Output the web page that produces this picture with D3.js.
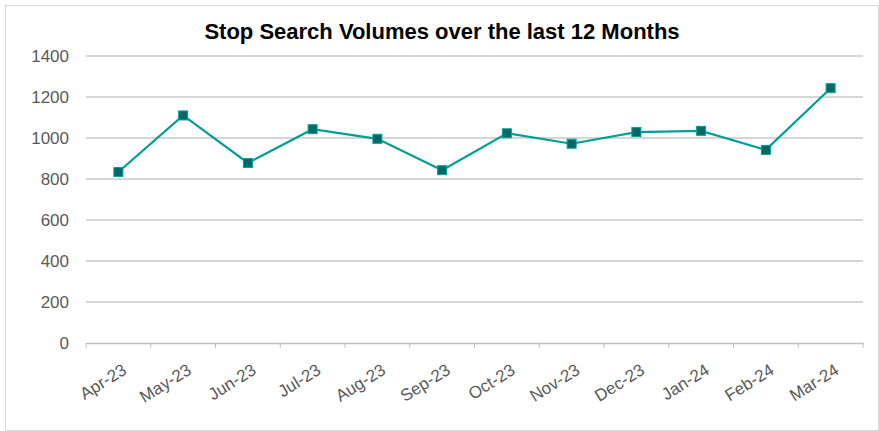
<!DOCTYPE html>
<html>
<head>
<meta charset="utf-8">
<script src="https://cdn.jsdelivr.net/npm/d3@7"></script>
<style>
  body { margin: 0; background: #fff; }
  text { font-family: "Liberation Sans", Arial, sans-serif; }
</style>
</head>
<body>
<div id="chart"></div>
<script>
// chart data
const months = ['Apr-23', 'May-23', 'Jun-23', 'Jul-23', 'Aug-23', 'Sep-23', 'Oct-23', 'Nov-23', 'Dec-23', 'Jan-24', 'Feb-24', 'Mar-24'];
const volumes = [834, 1110, 878, 1043, 996, 843, 1023, 972, 1029, 1035, 942, 1243];
const yTicks = [0, 200, 400, 600, 800, 1000, 1200, 1400];

const width = 879, height = 431;
const margin = {top: 56, right: 16, bottom: 88, left: 86};

const svg = d3.select('#chart')
    .append('svg')
    .attr('width', width)
    .attr('height', height);

// chart frame
svg.append('rect')
    .attr('x', 5.5).attr('y', 5.5)
    .attr('width', width - 6).attr('height', height - 6)
    .attr('fill', '#fff')
    .attr('stroke', '#d9d9d9');

svg.append('text')
    .attr('x', 442)
    .attr('y', 39)
    .attr('text-anchor', 'middle')
    .style('font-size', '22px')
    .style('font-weight', 'bold')
    .attr('fill', '#000')
    .text('Stop Search Volumes over the last 12 Months');

const xScale = d3.scaleBand().domain(months).range([margin.left, width - margin.right]);
const yScale = d3.scaleLinear().domain([0, 1400]).range([height - margin.bottom, margin.top]);

// gridlines
svg.append('g')
    .selectAll('line')
    .data(yTicks.filter(d => d > 0))
    .enter()
    .append('line')
    .attr('x1', margin.left)
    .attr('x2', width - margin.right)
    .attr('y1', d => yScale(d))
    .attr('y2', d => yScale(d))
    .attr('stroke', '#c8c8c8')
    .attr('stroke-width', 1.5);

// y axis labels
const yAxis = d3.axisLeft(yScale).tickValues(yTicks).tickFormat(d3.format('d')).tickSize(0).tickPadding(17);
const yg = svg.append('g')
    .attr('transform', `translate(${margin.left}, 0)`)
    .call(yAxis);
yg.select('.domain').remove();
yg.selectAll('text')
    .style('font-size', '17px')
    .attr('fill', '#595959');

// x axis
const xAxis = d3.axisBottom(xScale).tickSize(0).tickPadding(0);
const xg = svg.append('g')
    .attr('transform', `translate(0, ${yScale(0)})`)
    .call(xAxis);
xg.select('.domain')
    .attr('stroke', '#bfbfbf')
    .attr('stroke-width', 1.5);
xg.selectAll('.tick').remove();

// category separators
svg.append('g')
    .selectAll('line')
    .data(months.concat(['__end']))
    .enter()
    .append('line')
    .attr('x1', (d, i) => margin.left + i * xScale.bandwidth())
    .attr('x2', (d, i) => margin.left + i * xScale.bandwidth())
    .attr('y1', yScale(0))
    .attr('y2', yScale(0) + 5)
    .attr('stroke', '#bfbfbf')
    .attr('stroke-width', 1);

svg.append('g')
    .selectAll('text')
    .data(months)
    .enter()
    .append('text')
    .attr('transform', d => `translate(${xScale(d) + xScale.bandwidth() / 2 + 3}, ${yScale(0) + 20}) rotate(-32)`)
    .attr('text-anchor', 'end')
    .attr('dy', '0.7em')
    .style('font-size', '17px')
    .attr('fill', '#595959')
    .text(d => d);

// line
const line = d3.line()
    .x((d, i) => xScale(months[i]) + xScale.bandwidth() / 2)
    .y(d => yScale(d));

svg.append('path')
    .datum(volumes)
    .attr('d', line)
    .attr('fill', 'none')
    .attr('stroke', '#009e96')
    .attr('stroke-width', 2.2);

svg.append('g')
    .selectAll('rect')
    .data(volumes)
    .enter()
    .append('rect')
    .attr('x', (d, i) => xScale(months[i]) + xScale.bandwidth() / 2 - 4.5)
    .attr('y', d => yScale(d) - 4.5)
    .attr('width', 9)
    .attr('height', 9)
    .attr('fill', '#006865')
    .attr('stroke', '#00a39b')
    .attr('stroke-width', 1);
</script>
</body>
</html>
